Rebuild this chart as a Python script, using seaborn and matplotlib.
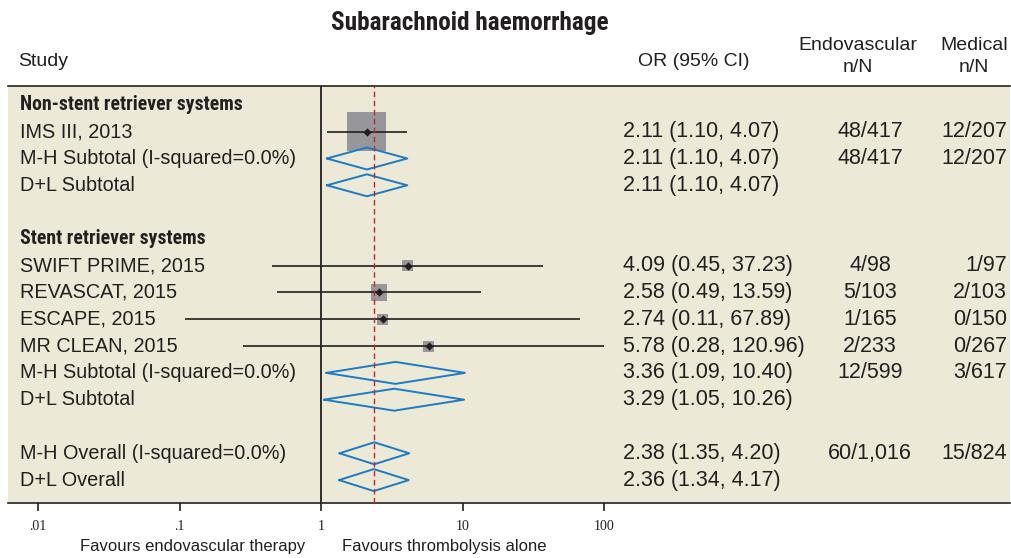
import matplotlib
matplotlib.use("Agg")
import matplotlib.pyplot as plt
import matplotlib.transforms as mtransforms
from matplotlib import font_manager
from matplotlib.font_manager import FontProperties
import numpy as np
import seaborn as sns

# row labels (rows 0..14, blanks are empty strings)
labels = ["Non-stent retriever systems", "IMS III, 2013", "M-H Subtotal (I-squared=0.0%)",
          "D+L Subtotal", "", "Stent retriever systems", "SWIFT PRIME, 2015",
          "REVASCAT, 2015", "ESCAPE, 2015", "MR CLEAN, 2015",
          "M-H Subtotal (I-squared=0.0%)", "D+L Subtotal", "",
          "M-H Overall (I-squared=0.0%)", "D+L Overall"]
header_rows = [0, 5]

# individual studies
study_rows = [1, 6, 7, 8, 9]
study_or = [2.11, 4.09, 2.58, 2.74, 5.78]
study_lo = [1.10, 0.45, 0.49, 0.11, 0.28]
study_hi = [4.07, 37.23, 13.59, 67.89, 120.96]
study_weight = [71.1, 5.7, 12.0, 5.7, 5.7]

# pooled estimates
pool_rows = [2, 3, 10, 11, 13, 14]
pool_or = [2.11, 2.11, 3.36, 3.29, 2.38, 2.36]
pool_lo = [1.10, 1.10, 1.09, 1.05, 1.35, 1.34]
pool_hi = [4.07, 4.07, 10.40, 10.26, 4.20, 4.17]

overall_or = 2.36

# text columns
or_text = {1: "2.11 (1.10, 4.07)", 2: "2.11 (1.10, 4.07)", 3: "2.11 (1.10, 4.07)",
           6: "4.09 (0.45, 37.23)", 7: "2.58 (0.49, 13.59)", 8: "2.74 (0.11, 67.89)",
           9: "5.78 (0.28, 120.96)", 10: "3.36 (1.09, 10.40)", 11: "3.29 (1.05, 10.26)",
           13: "2.38 (1.35, 4.20)", 14: "2.36 (1.34, 4.17)"}
endo_text = {1: "48/417", 2: "48/417", 6: "4/98", 7: "5/103", 8: "1/165", 9: "2/233",
             10: "12/599", 13: "60/1,016"}
med_text = {1: "12/207", 2: "12/207", 6: "1/97", 7: "2/103", 8: "0/150", 9: "0/267",
            10: "3/617", 13: "15/824"}

tick_vals = [0.01, 0.1, 1, 10, 100]
tick_labels = [".01", ".1", "1", "10", "100"]

sns.set_theme(style="white")
plt.rcParams["font.family"] = ["Liberation Sans", "DejaVu Sans"]

# look for a condensed bold face for the title / group headers
bold_fp = None
for key in ["LiberationSansNarrow-Bold", "RobotoCondensed-Bold", "DejaVuSansCondensed-Bold"]:
    hits = [f.fname for f in font_manager.fontManager.ttflist
            if f.fname.split("/")[-1].startswith(key)]
    if hits:
        bold_fp = hits[0]
        break
if bold_fp:
    def bold_props(size):
        return FontProperties(fname=bold_fp, size=size)
    head_size, title_size = 14.2, 18.2
else:
    def bold_props(size):
        return FontProperties(family="Liberation Sans", weight="bold", size=size)
    head_size, title_size = 12.2, 15

ink = "#231f20"
beige = "#ece9d7"
blue = "#1b7bc6"

W, H = 1011, 558
fig = plt.figure(figsize=(W / 100, H / 100), dpi=100)
fig.patch.set_facecolor("white")
ax = fig.add_axes([8 / W, (H - 503) / H, 1002 / W, 417 / H])
ax.set_facecolor(beige)
ax.set_xscale("log")
ax.set_xlim(10 ** -2.212, 10 ** 4.869)
ax.set_ylim(14.855, -0.705)

for s in ["left", "right"]:
    ax.spines[s].set_visible(False)
for s in ["top", "bottom"]:
    ax.spines[s].set_color(ink)
    ax.spines[s].set_linewidth(1.2)

ax.set_xticks(tick_vals)
ax.set_xticklabels(tick_labels, fontfamily="Liberation Serif", fontsize=10, color=ink)
ax.xaxis.set_minor_locator(matplotlib.ticker.NullLocator())
ax.tick_params(axis="x", direction="out", length=6, width=1.2, color=ink, pad=6, bottom=True)
ax.set_yticks([])

# reference lines
ax.axvline(1, color=ink, lw=1.3, zorder=1)
ax.axvline(overall_or, color="#c1272d", lw=1.0, ls=(0, (4, 2.5)), zorder=5)

# study CIs (clipped at the plotted range)
ax.hlines(study_rows, study_lo, np.minimum(study_hi, 100), color=ink, lw=1.2, zorder=3)

# weight boxes, area proportional to weight
wmax = max(study_weight)
side_pt = 39 * 0.72
sns.scatterplot(x=study_or, y=study_rows, size=study_weight, sizes=(0, side_pt ** 2),
                size_norm=(0, wmax), marker="s", color="#97979b", linewidth=0,
                legend=False, ax=ax, zorder=2)
sns.scatterplot(x=study_or, y=study_rows, marker="D", color=ink, s=18, linewidth=0,
                legend=False, ax=ax, zorder=4)

# pooled diamonds
h = 0.41
for r, e, lo, hi in zip(pool_rows, pool_or, pool_lo, pool_hi):
    ax.plot([lo, e, hi, e, lo], [r, r - h, r, r + h, r], color=blue, lw=1.4, zorder=3)

# text columns
tr = mtransforms.blended_transform_factory(fig.transFigure, ax.transData)
fs = 14.3
fn = 15.5
for r, lab in enumerate(labels):
    if not lab:
        continue
    if r in header_rows:
        ax.text(20 / W, r, lab, transform=tr, ha="left", va="center",
                fontproperties=bold_props(head_size), color=ink)
    else:
        ax.text(20 / W, r, lab, transform=tr, ha="left", va="center", fontsize=fs, color=ink)
for r, t in or_text.items():
    ax.text(623 / W, r, t, transform=tr, ha="left", va="center", fontsize=fn, color=ink)
for r, t in endo_text.items():
    ax.text(870 / W, r, t, transform=tr, ha="center", va="center", fontsize=fn, color=ink)
for r, t in med_text.items():
    ax.text(1007 / W, r, t, transform=tr, ha="right", va="center", fontsize=fn, color=ink)

# headers
def fy(px):
    return 1 - px / H

fig.text(470 / W, fy(23), "Subarachnoid haemorrhage", ha="center", va="center",
         fontproperties=bold_props(title_size), color=ink)
fig.text(18 / W, fy(62), "Study", ha="left", va="center", fontsize=14, color=ink)
fig.text(694 / W, fy(62), "OR (95% CI)", ha="center", va="center", fontsize=14, color=ink)
fig.text(858 / W, fy(46), "Endovascular", ha="center", va="center", fontsize=14, color=ink)
fig.text(858 / W, fy(68), "n/N", ha="center", va="center", fontsize=14, color=ink)
fig.text(974 / W, fy(46), "Medical", ha="center", va="center", fontsize=14, color=ink)
fig.text(974 / W, fy(68), "n/N", ha="center", va="center", fontsize=14, color=ink)

fig.text(305 / W, fy(547), "Favours endovascular therapy", ha="right", va="center",
         fontsize=12, color=ink)
fig.text(342 / W, fy(547), "Favours thrombolysis alone", ha="left", va="center",
         fontsize=12, color=ink)

fig.savefig("out.png", dpi=100)
